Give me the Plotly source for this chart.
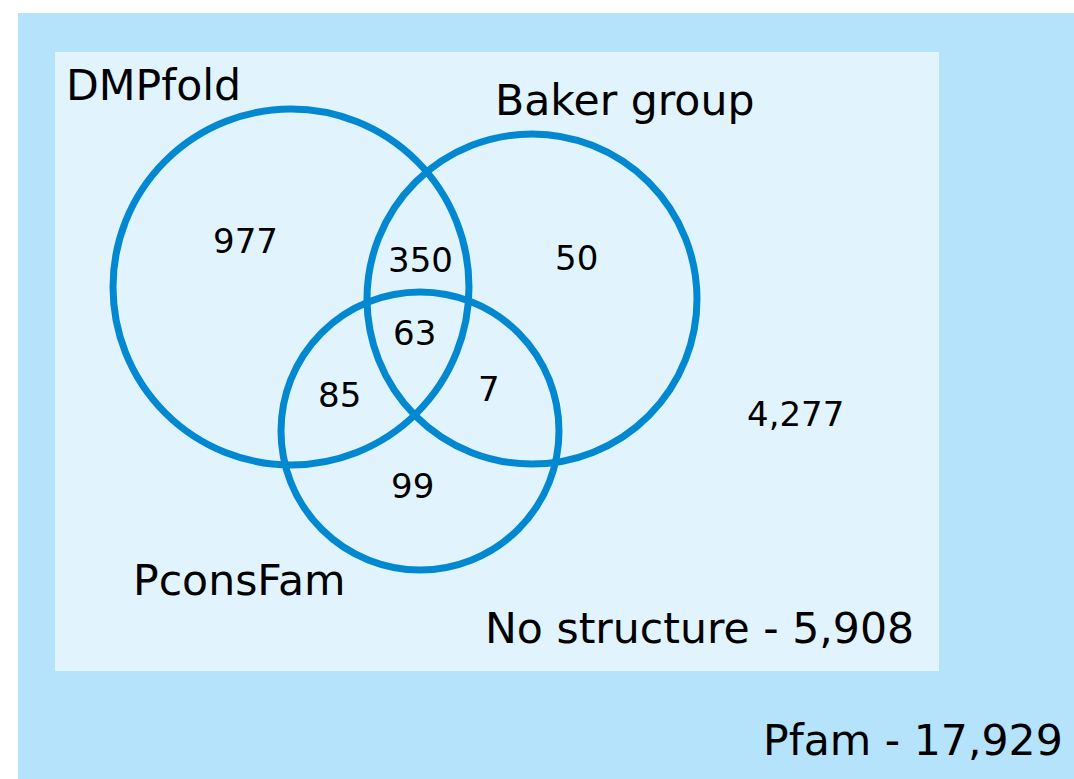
import plotly.graph_objects as go

# Set names and region counts
set_names = ["DMPfold", "Baker group", "PconsFam"]
region_labels = ["977", "350", "50", "63", "85", "7", "99", "4,277"]
no_structure_label = "No structure - 5,908"
pfam_label = "Pfam - 17,929"

# Layout geometry (pixel space)
W, H = 1074, 779
circle_cx = [291, 532, 420]
circle_cy = [287, 299, 431]
circle_r = [178, 165, 139]
set_label_pos = [(64, 85, "left"), (493, 100, "left"), (131, 580, "left")]
region_pos = [(245, 241), (420, 260), (576, 258), (414, 333), (339, 395), (489, 389), (412, 486), (795, 414)]

fig = go.Figure()
fig.add_trace(go.Scatter(x=[0], y=[0], mode="markers", marker=dict(opacity=0), showlegend=False, hoverinfo="skip"))

shapes = [
    dict(type="rect", x0=18, y0=13, x1=W, y1=H, fillcolor="#B6E3FC", line=dict(width=0), layer="below"),
    dict(type="rect", x0=55, y0=52, x1=939, y1=671, fillcolor="#E1F4FE", line=dict(width=0), layer="below"),
]
for cx, cy, r in zip(circle_cx, circle_cy, circle_r):
    shapes.append(dict(type="circle", x0=cx - r, x1=cx + r, y0=cy - r, y1=cy + r,
                       line=dict(color="#0288D1", width=7), fillcolor="rgba(0,0,0,0)"))

annotations = []
font_big = dict(family="DejaVu Sans", size=42.6, color="black")
font_num = dict(family="DejaVu Sans", size=34, color="black")
for name, (x, y, anc) in zip(set_names, set_label_pos):
    annotations.append(dict(x=x, y=y, text=name, xanchor=anc, yanchor="middle", showarrow=False, font=font_big))
for lab, (x, y) in zip(region_labels, region_pos):
    annotations.append(dict(x=x, y=y, text=lab, xanchor="center", yanchor="middle", showarrow=False, font=font_num))
annotations.append(dict(x=916, y=628, text=no_structure_label, xanchor="right", yanchor="middle", showarrow=False, font=font_big))
annotations.append(dict(x=1065, y=740, text=pfam_label, xanchor="right", yanchor="middle", showarrow=False, font=font_big))

fig.update_layout(
    width=W, height=H, margin=dict(l=0, r=0, t=0, b=0),
    paper_bgcolor="white", plot_bgcolor="white",
    xaxis=dict(range=[0, W], visible=False, fixedrange=True),
    yaxis=dict(range=[H, 0], visible=False, fixedrange=True),
    shapes=shapes, annotations=annotations, showlegend=False,
)
fig.write_html("out.html", config={"displayModeBar": False},
               post_script="document.body.style.margin='0';document.body.style.overflow='hidden';")
